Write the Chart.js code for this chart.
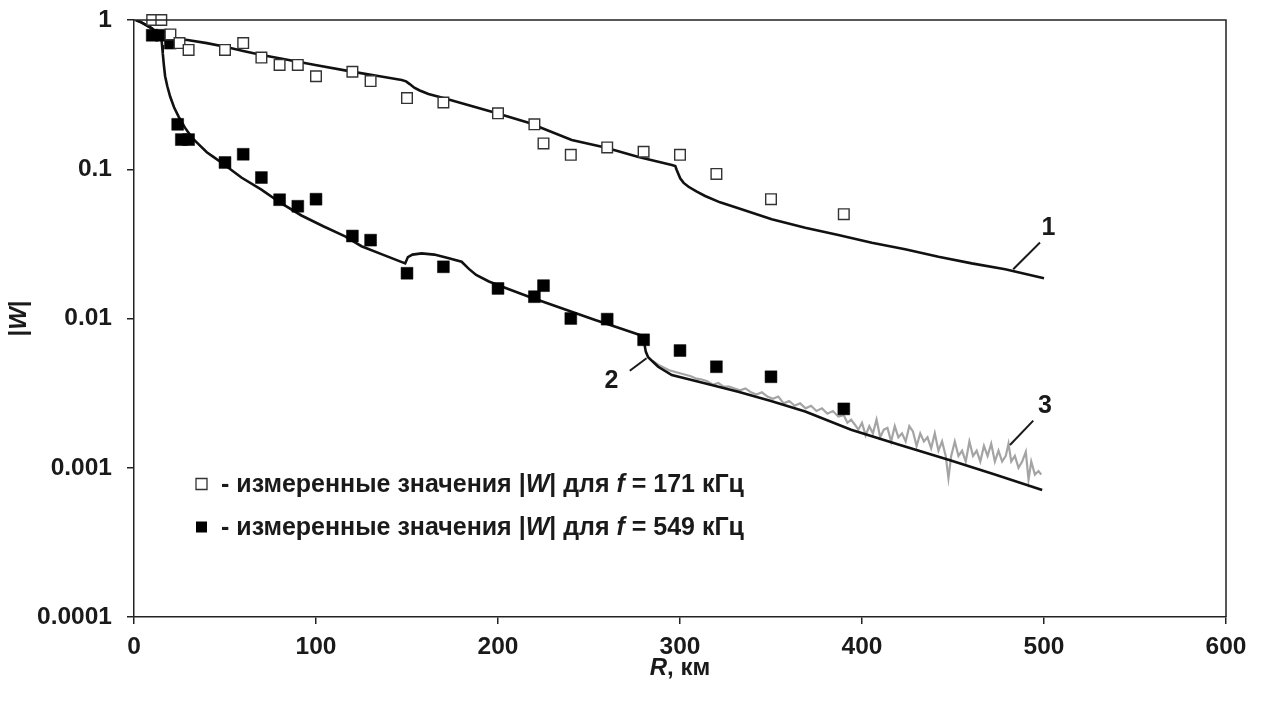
<!DOCTYPE html>
<html>
<head>
<meta charset="utf-8">
<script src="https://cdn.jsdelivr.net/npm/chart.js@4.4.0/dist/chart.umd.min.js"></script>
<style>
  html, body { margin: 0; padding: 0; background: #fff; }
  #wrap { width: 1261px; height: 707px; }
</style>
</head>
<body>
<div id="wrap"><canvas id="chart" width="1261" height="707"></canvas></div>
<script>
// measured |W|, f = 171 kHz (open squares)
var r171 = [10, 15, 20, 25, 30, 50, 60, 70, 80, 90, 100, 120, 130, 150, 170, 200, 220, 225, 240, 260, 280, 300, 320, 350, 390];
var w171 = [1.0, 1.0, 0.80, 0.70, 0.63, 0.63, 0.70, 0.56, 0.50, 0.50, 0.42, 0.45, 0.39, 0.30, 0.28, 0.237, 0.20, 0.149, 0.125, 0.140, 0.131, 0.125, 0.093, 0.063, 0.050];

// measured |W|, f = 549 kHz (filled squares)
var r549 = [10, 15, 20, 24, 26, 30, 50, 60, 70, 80, 90, 100, 120, 130, 150, 170, 200, 220, 225, 240, 260, 280, 300, 320, 350, 390];
var w549 = [0.79, 0.79, 0.70, 0.20, 0.158, 0.158, 0.111, 0.126, 0.088, 0.0625, 0.0565, 0.063, 0.0357, 0.0335, 0.0201, 0.0222, 0.0159, 0.014, 0.0166, 0.0100, 0.0099, 0.0072, 0.0061, 0.00475, 0.00407, 0.00248];

// curve 1 (calculated, 171 kHz)
var r1 = [1, 4.3, 9.8, 15.3, 22, 29.4, 40, 50.1, 60, 70.2, 85, 99.6, 119.7, 135, 147.1, 149.5, 151.5, 154, 157, 161.8, 170, 180.1, 198.5, 216.8, 240.5, 258.9, 277.2, 295.5, 297.4, 298.2, 300.1, 302, 304.7, 309, 313.8, 322, 332.1, 350.4, 368.8, 387, 405.4, 423.7, 442, 460.3, 478.7, 500];
var w1 = [1.0, 0.96, 0.88, 0.77, 0.75, 0.735, 0.70, 0.662, 0.62, 0.583, 0.54, 0.50, 0.451, 0.42, 0.396, 0.388, 0.372, 0.352, 0.337, 0.319, 0.300, 0.277, 0.239, 0.205, 0.157, 0.140, 0.121, 0.1068, 0.105, 0.0989, 0.0869, 0.081, 0.0763, 0.071, 0.0662, 0.060, 0.0547, 0.0462, 0.0406, 0.0363, 0.0322, 0.0291, 0.0259, 0.0234, 0.0214, 0.0186];

// curve 2 (calculated, 549 kHz)
var r2 = [1, 4.3, 9.8, 15.0, 15.4, 15.8, 16.4, 17.1, 18.3, 19.9, 22, 24.5, 28, 31.8, 36, 40, 44, 48, 59, 70, 81, 92, 104, 116, 125, 137, 149, 150.5, 153, 158, 165, 173, 180, 184, 188, 195, 206, 217, 235, 253, 267, 280, 280.6, 281.2, 282.5, 288, 295.5, 313, 332, 350, 368.8, 394, 420, 447.5, 473, 499];
var w2 = [1.0, 0.96, 0.88, 0.77, 0.68, 0.60, 0.50, 0.42, 0.36, 0.306, 0.26, 0.225, 0.19, 0.163, 0.145, 0.13, 0.12, 0.111, 0.088, 0.073, 0.059, 0.049, 0.0415, 0.0355, 0.0305, 0.0267, 0.0234, 0.0258, 0.0268, 0.0273, 0.0268, 0.0253, 0.024, 0.0215, 0.0196, 0.0177, 0.0157, 0.014, 0.0117, 0.0098, 0.0086, 0.0076, 0.0066, 0.006, 0.0055, 0.00475, 0.00418, 0.0037, 0.00323, 0.0028, 0.00238, 0.0018, 0.00143, 0.00113, 0.0009, 0.00071];

// curve 3 (measured record, gray)
var r3 = [285, 288, 291, 294, 297, 300, 303, 306, 309, 312, 315, 318, 321, 324, 327, 330, 333, 336, 339, 342, 345, 348, 351, 354, 357, 360, 363, 366, 369, 372, 375, 378, 381, 384, 387, 390,
  392, 394, 396, 398, 400, 402, 404, 406, 408, 410, 412, 414, 416, 418, 420, 422, 424, 426, 428, 430, 432, 434, 436, 438, 440, 442, 444, 446, 447.5, 449,
  451, 453, 455, 457, 459, 461, 463, 465, 467, 469, 471, 473, 475, 477, 479, 480.5, 482, 484, 486, 488, 490, 491.5, 493, 495, 497, 498.5];
var w3 = [0.0052, 0.0049, 0.0047, 0.0045, 0.0044, 0.0043, 0.0042, 0.0041, 0.00395, 0.0039, 0.0038, 0.0036, 0.0037, 0.0035, 0.0035, 0.0034, 0.0033, 0.0034, 0.0032, 0.0031, 0.0032, 0.0030, 0.0029, 0.0030, 0.0027, 0.0028, 0.0026, 0.0027, 0.0025, 0.0026, 0.0024, 0.0025, 0.0023, 0.0024, 0.0022, 0.00225,
  0.0020, 0.0021, 0.00195, 0.0018, 0.0020, 0.00165, 0.0019, 0.0017, 0.0021, 0.0016, 0.0018, 0.00185, 0.0015, 0.0019, 0.0016, 0.0017, 0.0015, 0.0019, 0.00175, 0.0014, 0.0017, 0.0015, 0.0016, 0.00135, 0.0017, 0.0013, 0.0015, 0.0012, 0.00085, 0.0012,
  0.0015, 0.0012, 0.0013, 0.0011, 0.0015, 0.0012, 0.0013, 0.0011, 0.0014, 0.0012, 0.00145, 0.0011, 0.0013, 0.0011, 0.0012, 0.00145, 0.0011, 0.0012, 0.0010, 0.0011, 0.00128, 0.00083, 0.0011, 0.0009, 0.00095, 0.0009];

var yTicks = [0.0001, 0.001, 0.01, 0.1, 1];
var yTickLabels = ['0.0001', '0.001', '0.01', '0.1', '1'];

// curve numbers with their leader lines, in data units
var callouts = [
  { text: '1', from: [483.1, 0.0214], to: [497.8, 0.0323], at: [502.4, 0.0404] },
  { text: '2', from: [272.4, 0.00447], to: [281.6, 0.00542], at: [262.3, 0.00378] },
  { text: '3', from: [481.3, 0.00142], to: [494.1, 0.00207], at: [500.5, 0.00257] }
];

// legend lines, odd pieces are italic
var legendRows = [
  { filled: false, parts: ['- измеренные значения |', 'W', '| для ', 'f', ' = 171 кГц'] },
  { filled: true, parts: ['- измеренные значения |', 'W', '| для ', 'f', ' = 549 кГц'] }
];

var FONT = "'Liberation Sans', Arial, sans-serif";
var INK = '#1a1a1a';

function pts(xs, ys) {
  return xs.map(function (x, i) { return { x: x, y: ys[i] }; });
}

function font(size, italic) {
  return (italic ? 'italic ' : '') + 'bold ' + size + 'px ' + FONT;
}

// write pieces left to right, every second piece italic
function drawParts(ctx, parts, x, y, size) {
  parts.forEach(function (p, i) {
    ctx.font = font(size, i % 2 == 1);
    ctx.fillText(p, x, y);
    x += ctx.measureText(p).width;
  });
  return x;
}

function partsWidth(ctx, parts, size) {
  var w = 0;
  parts.forEach(function (p, i) {
    ctx.font = font(size, i % 2 == 1);
    w += ctx.measureText(p).width;
  });
  return w;
}

var extras = {
  id: 'extras',
  afterDraw: function (chart) {
    var ctx = chart.ctx, a = chart.chartArea;
    var sx = chart.scales.x, sy = chart.scales.y;
    ctx.save();

    // top and right sides of the frame
    ctx.strokeStyle = '#222';
    ctx.lineWidth = 1.5;
    ctx.beginPath();
    ctx.moveTo(a.left, a.top);
    ctx.lineTo(a.right, a.top);
    ctx.lineTo(a.right, a.bottom);
    ctx.stroke();

    // curve numbers
    ctx.strokeStyle = INK;
    ctx.lineWidth = 2;
    ctx.fillStyle = INK;
    ctx.textAlign = 'center';
    ctx.textBaseline = 'middle';
    ctx.font = font(25, false);
    callouts.forEach(function (c) {
      ctx.beginPath();
      ctx.moveTo(sx.getPixelForValue(c.from[0]), sy.getPixelForValue(c.from[1]));
      ctx.lineTo(sx.getPixelForValue(c.to[0]), sy.getPixelForValue(c.to[1]));
      ctx.stroke();
      ctx.fillText(c.text, sx.getPixelForValue(c.at[0]), sy.getPixelForValue(c.at[1]));
    });

    // legend inside the plot
    ctx.textAlign = 'left';
    legendRows.forEach(function (row, i) {
      var y = 484 + i * 43;
      ctx.beginPath();
      ctx.rect(196, y - 5.5, 11, 11);
      if (row.filled) {
        ctx.fillStyle = '#000';
        ctx.fill();
      } else {
        ctx.fillStyle = '#fff';
        ctx.fill();
        ctx.strokeStyle = '#333';
        ctx.lineWidth = 1.3;
        ctx.stroke();
      }
      ctx.fillStyle = INK;
      drawParts(ctx, row.parts, 221, y + 1, 25);
    });

    // axis titles
    var xt = ['', 'R', ', км'];
    var w = partsWidth(ctx, xt, 24);
    drawParts(ctx, xt, (a.left + a.right) / 2 - w / 2, 668, 24);

    ctx.translate(19, (a.top + a.bottom) / 2);
    ctx.rotate(-Math.PI / 2);
    var yt = ['|', 'W', '|'];
    w = partsWidth(ctx, yt, 24);
    drawParts(ctx, yt, -w / 2, 0, 24);

    ctx.restore();
  }
};

var curve = {
  showLine: true,
  pointRadius: 0,
  borderColor: '#111',
  borderWidth: 2.6,
  tension: 0
};

var chart = new Chart(document.getElementById('chart'), {
  type: 'scatter',
  data: {
    datasets: [{
      label: '171 kHz',
      data: pts(r171, w171),
      pointStyle: 'rect',
      pointRadius: 7.5,
      backgroundColor: '#fff',
      borderColor: '#333',
      borderWidth: 1.4,
      clip: false
    }, {
      label: '549 kHz',
      data: pts(r549, w549),
      pointStyle: 'rect',
      pointRadius: 8.4,
      backgroundColor: '#000',
      borderColor: '#000',
      borderWidth: 0.5,
      clip: false
    },
    Object.assign({ label: '1', data: pts(r1, w1) }, curve),
    Object.assign({ label: '2', data: pts(r2, w2) }, curve),
    {
      label: '3',
      data: pts(r3, w3),
      showLine: true,
      pointRadius: 0,
      borderColor: '#a4a4a4',
      borderWidth: 2.2,
      tension: 0
    }]
  },
  options: {
    responsive: false,
    animation: false,
    layout: { padding: { top: 20, right: 35, left: 0, bottom: 0 } },
    plugins: {
      legend: { display: false },
      tooltip: { enabled: false }
    },
    scales: {
      x: {
        type: 'linear',
        min: 0,
        max: 600,
        ticks: { stepSize: 100, font: { family: FONT, size: 24.5, weight: 'bold' }, color: INK, padding: 9, maxRotation: 0 },
        grid: { drawOnChartArea: false, drawTicks: true, tickLength: 7, tickColor: '#222', lineWidth: 1.5 },
        border: { color: '#222', width: 1.5 },
        afterFit: function (s) { s.height = 90; }
      },
      y: {
        type: 'logarithmic',
        min: 0.0001,
        max: 1,
        afterBuildTicks: function (s) {
          s.ticks = yTicks.map(function (v) { return { value: v }; });
        },
        ticks: {
          // small lineHeight keeps the top label from pushing the plot down
          font: { family: FONT, size: 24.5, weight: 'bold', lineHeight: 0.3 },
          color: INK,
          padding: 15,
          callback: function (v) {
            var i = yTicks.indexOf(v);
            return i < 0 ? '' : yTickLabels[i];
          }
        },
        grid: { drawOnChartArea: false, drawTicks: true, tickLength: 7, tickColor: '#222', lineWidth: 1.5 },
        border: { color: '#222', width: 1.5 },
        afterFit: function (s) { s.width = 134; }
      }
    }
  },
  plugins: [extras]
});
</script>
</body>
</html>
